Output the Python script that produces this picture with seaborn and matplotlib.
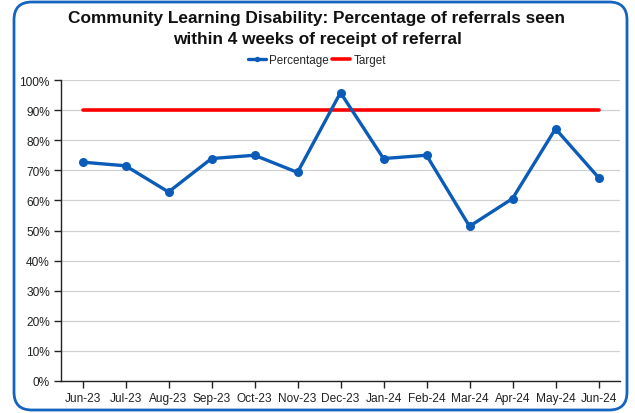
import matplotlib
matplotlib.use("Agg")
import matplotlib.pyplot as plt
import seaborn as sns
import pandas as pd
from matplotlib.patches import FancyBboxPatch
from matplotlib.ticker import PercentFormatter, MultipleLocator

months = ["Jun-23", "Jul-23", "Aug-23", "Sep-23", "Oct-23", "Nov-23", "Dec-23",
          "Jan-24", "Feb-24", "Mar-24", "Apr-24", "May-24", "Jun-24"]
percentage = [0.727, 0.715, 0.628, 0.739, 0.750, 0.693, 0.958,
              0.739, 0.750, 0.514, 0.606, 0.838, 0.676]
target = [0.90] * len(months)

df = pd.DataFrame({"month": months, "Percentage": percentage, "Target": target})
df["x"] = range(len(months))

sns.set_theme(style="white")
plt.rcParams["font.family"] = ["Liberation Sans", "DejaVu Sans"]

fig = plt.figure(figsize=(6.35, 4.14), dpi=100)
ax = fig.add_axes([61/635, 32/414, (620-61)/635, (382-81)/414])

blue = "#0a5cb8"
red = "#ff0000"

sns.lineplot(data=df, x="x", y="Target", ax=ax, color=red, lw=2.6, label="Target", zorder=3)
sns.lineplot(data=df, x="x", y="Percentage", ax=ax, color=blue, lw=2.4, marker="o",
             markersize=6.5, markeredgewidth=0, label="Percentage", zorder=4)

ax.set_xlim(-0.5, len(months) - 0.5)
ax.set_ylim(0, 1.0)
ax.yaxis.set_major_locator(MultipleLocator(0.1))
ax.yaxis.set_major_formatter(PercentFormatter(1.0, decimals=0))
ax.set_xticks(df["x"])
ax.set_xticklabels(months)
ax.set_xlabel("")
ax.set_ylabel("")
ax.grid(axis="y", color="#d0d0d0", lw=0.9)
ax.set_axisbelow(True)
for s in ["top", "right"]:
    ax.spines[s].set_visible(False)
for s in ["left", "bottom"]:
    ax.spines[s].set_color("#222222")
    ax.spines[s].set_linewidth(1.0)
ax.tick_params(axis="both", which="major", length=5, width=1, color="#222222",
               labelsize=8.6, labelcolor="#222222", direction="out",
               bottom=True, left=True, pad=3)

handles, labels = ax.get_legend_handles_labels()
ax.get_legend().remove()
order = [labels.index("Percentage"), labels.index("Target")]
fig.legend([handles[i] for i in order], [labels[i] for i in order],
           loc="center", bbox_to_anchor=(317/635, 1 - 61/414), ncol=2, frameon=False,
           fontsize=8.4, handlelength=1.5, handletextpad=0.3, columnspacing=0.3,
           borderpad=0, markerscale=0.6)

fig.text(317/635, 1 - 29/414,
         "Community Learning Disability: Percentage of referrals seen\nwithin 4 weeks of receipt of referral",
         ha="center", va="center", fontsize=12.4, fontweight="bold", color="#111111",
         linespacing=1.45)

border = FancyBboxPatch((14/635, 3/414), (627-14)/635, (411-3)/414,
                        boxstyle="round,pad=0,rounding_size=0.028",
                        transform=fig.transFigure, fill=False, edgecolor="#1565c0",
                        linewidth=2, mutation_aspect=635/414)
fig.patches.append(border)

fig.savefig("out.png", dpi=100)
